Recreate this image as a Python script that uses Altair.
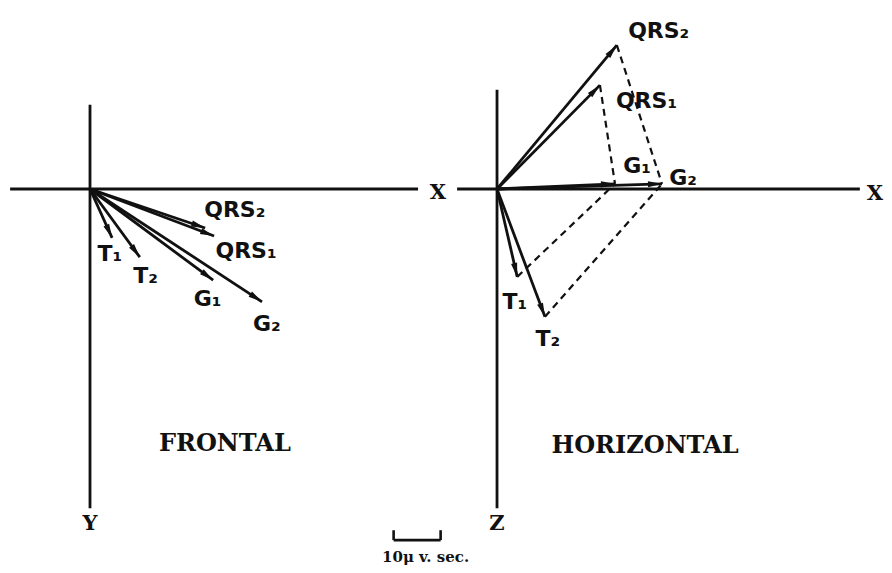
import math
import altair as alt
import pandas as pd

# ---------------- data (units: 10 units = the "10 µ v. sec." bar) ----------------
K = 4.7          # px per unit in this drawing
W, H = 876, 557  # plot area
OFFSET_H = 86.6  # horizontal-plane origin, in units to the right of the frontal one

# Frontal plane vectors (x to the right, y downward)
f_names = ["QRS\u2082", "QRS\u2081", "T\u2081", "T\u2082", "G\u2081", "G\u2082"]
f_dx = [24.5, 26.4, 4.7, 10.6, 26.2, 36.6]
f_dy = [8.3, 10.0, 10.4, 14.5, 19.4, 24.0]
f_lx = [30.8, 33.2, 4.2, 11.8, 25.0, 37.6]
f_ly = [4.4, 13.2, 13.8, 18.6, 23.4, 28.8]

# Horizontal plane vectors (x to the right, z downward)
h_names = ["QRS\u2082", "QRS\u2081", "G\u2081", "G\u2082", "T\u2081", "T\u2082"]
h_dx = [25.5, 21.9, 25.1, 35.1, 4.3, 10.2]
h_dz = [-30.6, -22.1, -1.1, -1.1, 18.7, 27.2]
h_lx = [34.4, 31.8, 29.8, 39.6, 3.8, 10.8]
h_lz = [-33.6, -18.8, -4.8, -2.4, 24.0, 32.0]

# Dashed parallelogram construction lines in the horizontal plane
dash_from = ["QRS\u2081", "QRS\u2082", "T\u2081", "T\u2082"]
dash_to = ["G\u2081", "G\u2082", "G\u2081", "G\u2082"]

# Reference axes (start/end along each axis, in units)
f_xaxis = [-17.0, 69.8]
f_yaxis = [-17.9, 67.9]
h_xaxis = [-8.5, 77.2]
h_zaxis = [-21.1, 67.9]

axis_letters = ["X", "Y", "X", "Z"]
axis_letter_x = [74.0, 0.0, OFFSET_H + 80.4, OFFSET_H + 0.0]
axis_letter_y = [0.8, 71.2, 1.0, 71.2]

panel_titles = ["FRONTAL", "HORIZONTAL"]
panel_title_x = [28.7, OFFSET_H + 31.5]
panel_title_y = [54.3, 54.7]

scale_bar_len = 10.0
scale_bar_x0 = 64.6
scale_bar_y = 74.7
scale_bar_tick = 2.1
scale_bar_text = "10\u03bc v. sec."
scale_bar_text_x = 71.4
scale_bar_text_y = 78.4

# ---------------- build tables ----------------
def arrow_angle(dx, dy):
    return math.degrees(math.atan2(dx, -dy)) % 360

vec_rows = []
for n, dx, dy in zip(f_names, f_dx, f_dy):
    vec_rows.append(dict(name=n, x=0.0, y=0.0, x2=dx, y2=dy, ang=arrow_angle(dx, dy)))
for n, dx, dz in zip(h_names, h_dx, h_dz):
    vec_rows.append(dict(name=n, x=OFFSET_H, y=0.0, x2=OFFSET_H + dx, y2=dz, ang=arrow_angle(dx, dz)))
vectors = pd.DataFrame(vec_rows)

hend = {n: (OFFSET_H + dx, dz) for n, dx, dz in zip(h_names, h_dx, h_dz)}
dashes = pd.DataFrame([
    dict(x=hend[a][0], y=hend[a][1], x2=hend[b][0], y2=hend[b][1])
    for a, b in zip(dash_from, dash_to)
])

axes = pd.DataFrame([
    dict(x=f_xaxis[0], y=0.0, x2=f_xaxis[1], y2=0.0),
    dict(x=0.0, y=f_yaxis[0], x2=0.0, y2=f_yaxis[1]),
    dict(x=OFFSET_H + h_xaxis[0], y=0.0, x2=OFFSET_H + h_xaxis[1], y2=0.0),
    dict(x=OFFSET_H, y=h_zaxis[0], x2=OFFSET_H, y2=h_zaxis[1]),
])

labels = pd.DataFrame(
    [dict(t=n, x=lx, y=ly) for n, lx, ly in zip(f_names, f_lx, f_ly)]
    + [dict(t=n, x=OFFSET_H + lx, y=lz) for n, lx, lz in zip(h_names, h_lx, h_lz)]
)

letters = pd.DataFrame(dict(t=axis_letters, x=axis_letter_x, y=axis_letter_y))
titles = pd.DataFrame(dict(t=panel_titles, x=panel_title_x, y=panel_title_y))

x1b = scale_bar_x0
x2b = scale_bar_x0 + scale_bar_len
bar = pd.DataFrame([
    dict(x=x1b, y=scale_bar_y, x2=x2b, y2=scale_bar_y),
    dict(x=x1b, y=scale_bar_y - scale_bar_tick, x2=x1b, y2=scale_bar_y),
    dict(x=x2b, y=scale_bar_y - scale_bar_tick, x2=x2b, y2=scale_bar_y),
])
bar_text = pd.DataFrame(dict(t=[scale_bar_text], x=[scale_bar_text_x], y=[scale_bar_text_y]))

# ---------------- scales ----------------
XS = alt.Scale(domain=[-82 / K, (W - 82) / K], nice=False, zero=False)
YS = alt.Scale(domain=[-181 / K, (H - 181) / K], nice=False, zero=False, reverse=True)

def seg_enc(ch):
    return ch.encode(
        x=alt.X("x:Q", scale=XS, axis=None),
        y=alt.Y("y:Q", scale=YS, axis=None),
        x2="x2:Q",
        y2="y2:Q",
    )

def txt_enc(ch):
    return ch.encode(
        x=alt.X("x:Q", scale=XS, axis=None),
        y=alt.Y("y:Q", scale=YS, axis=None),
        text="t:N",
    )

SERIF = "DejaVu Serif"
SANS = "DejaVu Sans"
INK = "#111"

axes_layer = seg_enc(alt.Chart(axes).mark_rule(color=INK, strokeWidth=2.8))
vec_layer = seg_enc(alt.Chart(vectors).mark_rule(color=INK, strokeWidth=2.8))
dash_layer = seg_enc(alt.Chart(dashes).mark_rule(color=INK, strokeWidth=2.2, strokeDash=[7, 5]))
head_layer = alt.Chart(vectors).mark_point(
    shape="M0,0L0.62,2.8L-0.62,2.8Z", filled=True, color=INK, opacity=1, size=100
).encode(
    x=alt.X("x2:Q", scale=XS, axis=None),
    y=alt.Y("y2:Q", scale=YS, axis=None),
    angle=alt.Angle("ang:Q", scale=None),
)
label_layer = txt_enc(alt.Chart(labels).mark_text(
    font=SANS, fontWeight="bold", fontSize=22, color=INK, align="center", baseline="middle"))
letter_layer = txt_enc(alt.Chart(letters).mark_text(
    font=SERIF, fontWeight="bold", fontSize=21, color=INK, align="center", baseline="middle"))
title_layer = txt_enc(alt.Chart(titles).mark_text(
    font=SERIF, fontWeight="bold", fontSize=24, color=INK, align="center", baseline="middle"))
bar_layer = seg_enc(alt.Chart(bar).mark_rule(color=INK, strokeWidth=2.6))
bar_text_layer = txt_enc(alt.Chart(bar_text).mark_text(
    font=SERIF, fontWeight="bold", fontSize=15, color=INK, align="center", baseline="middle"))

chart = alt.layer(
    axes_layer, dash_layer, vec_layer, head_layer,
    label_layer, letter_layer, title_layer, bar_layer, bar_text_layer,
).properties(
    width=W, height=H, padding=0, autosize=alt.AutoSizeParams(type="none"), background="white"
).configure_view(stroke=None)

chart.save("out.html", embed_options={"renderer": "svg", "actions": False})
